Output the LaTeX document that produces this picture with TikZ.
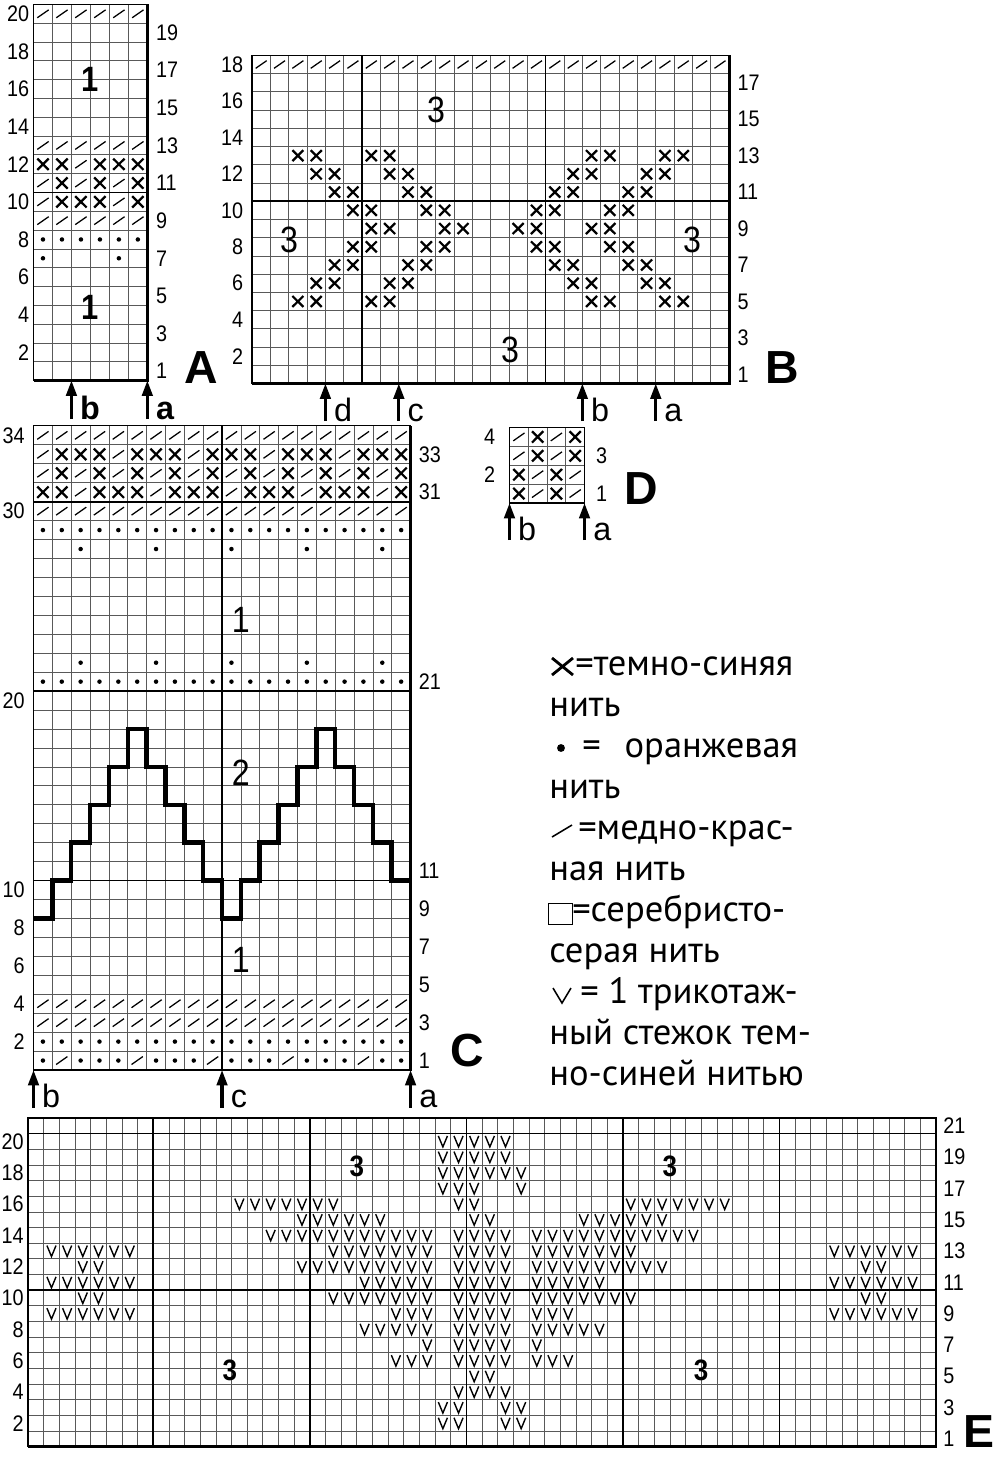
\documentclass[tikz,border=0pt]{standalone}
\usepackage{fontspec}
\setmainfont{Liberation Sans}
\newfontfamily\numfont[FakeStretch=0.88]{Liberation Sans}
\newfontfamily\legfont{PT Sans}
\usetikzlibrary{arrows.meta}

\begin{document}
\begin{tikzpicture}[x=0.025cm, y=-0.025cm]
    \tikzstyle{gridline} = [line width=0.5pt, black!65]
    \tikzstyle{heavyline} = [line width=1.2pt]
    \tikzstyle{borderline} = [line width=0.8pt]
    \tikzstyle{edgeline} = [line width=2pt]
    \tikzstyle{numlbl} = [font=\numfont\fontsize{16}{16}\selectfont, inner sep=0pt]
    \tikzstyle{zonelbl} = [font=\numfont\fontsize{26}{26}\selectfont, inner sep=0pt]
    \tikzstyle{zonebold} = [font=\numfont\bfseries\fontsize{25}{25}\selectfont, inner sep=0pt]
    \tikzstyle{chartlbl} = [font=\bfseries\fontsize{33}{33}\selectfont, inner sep=0pt, anchor=base]
    \tikzstyle{arrlbl} = [font=\fontsize{23}{23}\selectfont, inner sep=0pt, anchor=base west]
    \tikzstyle{arrbold} = [font=\bfseries\fontsize{23}{23}\selectfont, inner sep=0pt, anchor=base west]
    \tikzstyle{markarrow} = [line width=2.2pt, -{Triangle[width=7.5pt,length=11pt]}]
    \tikzstyle{stair} = [line width=3.2pt]
    \tikzstyle{legtext} = [font=\legfont\fontsize{26}{30}\selectfont, inner sep=0pt, anchor=base west]
    \tikzset{
      pics/slashmark/.style={code={\draw[line width=0.9pt] (-0.3,-0.21) -- (0.3,0.21);}},
      pics/crossmark/.style={code={\draw[line width=1.6pt] (-0.3,-0.3) -- (0.3,0.3) (-0.3,0.3) -- (0.3,-0.3);}},
      pics/dotmark/.style={code={\fill (0,0) circle[radius=1.6pt];}},
      pics/veemark/.style={code={\draw[line width=1pt] (-0.29,0.35) -- (0,-0.35) -- (0.29,0.35);}}
    }

    \path[use as bounding box, fill=white] (0,0) rectangle (1000,1468);

    % chart A
    \begin{scope}[shift={(33.5,380.5)}, x=0.4742cm, y=0.47cm]
      \foreach \i in {1,...,5} \draw[gridline] (\i,0) -- (\i,20);
      \foreach \j in {1,...,19} \draw[gridline] (0,\j) -- (6,\j);
      \draw[heavyline] (0,10) -- (6,10);
      \draw[borderline] (0,0) rectangle (6,20);
      \draw[edgeline] (0,0) -- (6,0) -- (6,20);
      \foreach \r/\cs in {20/{1,...,6},13/{1,...,6},12/{3},11/{1,3,5},10/{1,5},9/{1,...,6}}
        \foreach \c in \cs \pic at (\c-0.5,\r-0.5) {slashmark};
      \foreach \r/\cs in {12/{1,2,4,5,6},11/{2,4,6},10/{2,3,4,6}}
        \foreach \c in \cs \pic at (\c-0.5,\r-0.5) {crossmark};
      \foreach \r/\cs in {8/{1,...,6},7/{1,5}}
        \foreach \c in \cs \pic at (\c-0.5,\r-0.5) {dotmark};
      \foreach \r in {2,4,...,20} \node[numlbl, anchor=east] (Al\r) at (-0.22,\r-0.5) {\r};
      \foreach \r in {1,3,...,19} \node[numlbl, anchor=west] (Ar\r) at (6.45,\r-0.5) {\r};
      \node[zonebold] (Az1) at (3,16) {1};
      \node[zonebold] (Az2) at (3,3.9) {1};
      \foreach \c/\t in {2/b,6/a} {
        \coordinate (A\t0) at (\c,-2.05);
        \coordinate (A\t1) at (\c,0);
        \draw[markarrow] (A\t0) -- (A\t1);
        \node[arrbold] (A\t) at ([xshift=6pt]A\t0) {\t};
      }
    \end{scope}
    \node[chartlbl] (lblA) at (201,383) {A};

    % chart B
    \begin{scope}[shift={(252,383.5)}, x=0.4587cm, y=0.4556cm]
      \foreach \i in {1,...,25} \draw[gridline] (\i,0) -- (\i,18);
      \foreach \j in {1,...,17} \draw[gridline] (0,\j) -- (26,\j);
      \draw[heavyline] (6,0) -- (6,18) (16,0) -- (16,18) (0,10) -- (26,10);
      \draw[borderline] (0,0) rectangle (26,18);
      \draw[edgeline] (0,0) -- (26,0) -- (26,18);
      \foreach \c in {1,...,26} \pic at (\c-0.5,17.5) {slashmark};
      \foreach \r/\cs in {13/{3,4,7,8},12/{4,5,8,9},11/{5,6,9,10},10/{6,7,10,11},9/{7,8,11,12},
                          8/{6,7,10,11},7/{5,6,9,10},6/{4,5,8,9},5/{3,4,7,8}}
        \foreach \c in \cs {
          \pic at (\c-0.5,\r-0.5) {crossmark};
          \pic at (26.5-\c,\r-0.5) {crossmark};
        }
      \foreach \r in {2,4,...,18} \node[numlbl, anchor=east] (Bl\r) at (-0.47,\r-0.5) {\r};
      \foreach \r in {1,3,...,17} \node[numlbl, anchor=west] (Br\r) at (26.44,\r-0.5) {\r};
      \node[zonelbl] (Bz1) at (10.03,15) {3};
      \node[zonelbl] (Bz2) at (2.02,7.88) {3};
      \node[zonelbl] (Bz3) at (14.06,1.84) {3};
      \node[zonelbl] (Bz4) at (23.98,7.88) {3};
      \foreach \c/\t in {4/d,8/c,18/b,22/a} {
        \coordinate (B\t0) at (\c,-2.06);
        \coordinate (B\t1) at (\c,0);
        \draw[markarrow] (B\t0) -- (B\t1);
        \node[arrlbl] (B\t) at ([xshift=6pt]B\t0) {\t};
      }
    \end{scope}
    \node[chartlbl] (lblB) at (782,383) {B};

    % chart C
    \begin{scope}[shift={(33.5,1070)}, x=0.4712cm, y=0.4735cm]
      \foreach \i in {1,...,19} \draw[gridline] (\i,0) -- (\i,34);
      \foreach \j in {1,...,33} \draw[gridline] (0,\j) -- (20,\j);
      \draw[heavyline] (10,0) -- (10,34) (0,10) -- (20,10) (0,20) -- (20,20) (0,30) -- (20,30);
      \draw[borderline] (0,0) rectangle (20,34);
      \draw[edgeline] (0,0) -- (20,0) -- (20,34);
      \foreach \r/\cs in {34/{1,...,20},33/{1,5,9,13,17},32/{1,3,...,19},31/{3,7,11,15,19},
                          30/{1,...,20},4/{1,...,20},3/{1,...,20},1/{2,6,10,14,18}}
        \foreach \c in \cs \pic at (\c-0.5,\r-0.5) {slashmark};
      \foreach \r/\cs in {33/{2,3,4,6,7,8,10,11,12,14,15,16,18,19,20},32/{2,4,...,20},
                          31/{1,2,4,5,6,8,9,10,12,13,14,16,17,18,20}}
        \foreach \c in \cs \pic at (\c-0.5,\r-0.5) {crossmark};
      \foreach \r/\cs in {29/{1,...,20},28/{3,7,11,15,19},22/{3,7,11,15,19},21/{1,...,20},
                          2/{1,...,20},1/{1,3,4,5,7,8,9,11,12,13,15,16,17,19,20}}
        \foreach \c in \cs \pic at (\c-0.5,\r-0.5) {dotmark};
      \draw[stair] (0,8) -| (1,10) -| (2,12) -| (3,14) -| (4,16) -| (5,18) -| (6,16) -| (7,14)
                   -| (8,12) -| (9,10) -| (10,8) -| (11,10) -| (12,12) -| (13,14) -| (14,16)
                   -| (15,18) -| (16,16) -| (17,14) -| (18,12) -| (19,10) -- (20,10);
      \foreach \r in {34,30,20,10,8,6,4,2} \node[numlbl, anchor=east] (Cl\r) at (-0.45,\r-0.5) {\r};
      \foreach \r in {33,31,21,11,9,7,5,3,1} \node[numlbl, anchor=west] (Cr\r) at (20.42,\r-0.5) {\r};
      \node[zonelbl] (Cz1) at (10.99,23.76) {1};
      \node[zonelbl] (Cz2) at (10.99,15.68) {2};
      \node[zonelbl] (Cz3) at (10.99,5.81) {1};
      \foreach \c/\t in {0/b,10/c,20/a} {
        \coordinate (C\t0) at (\c,-2);
        \coordinate (C\t1) at (\c,0);
        \draw[markarrow] (C\t0) -- (C\t1);
        \node[arrlbl] (C\t) at ([xshift=6pt]C\t0) {\t};
      }
    \end{scope}
    \node[chartlbl] (lblC) at (467,1066) {C};

    % chart D
    \begin{scope}[shift={(509.5,503)}, x=0.4688cm, y=0.4719cm]
      \foreach \i in {1,2,3} \draw[gridline] (\i,0) -- (\i,4) (0,\i) -- (4,\i);
      \draw[borderline] (0,0) rectangle (4,4);
      \foreach \r/\cs in {4/{1,3},3/{1,3},2/{2,4},1/{2,4}}
        \foreach \c in \cs \pic at (\c-0.5,\r-0.5) {slashmark};
      \foreach \r/\cs in {4/{2,4},3/{2,4},2/{1,3},1/{1,3}}
        \foreach \c in \cs \pic at (\c-0.5,\r-0.5) {crossmark};
      \foreach \r in {2,4} \node[numlbl, anchor=east] (Dl\r) at (-0.75,\r-0.5) {\r};
      \foreach \r in {1,3} \node[numlbl, anchor=west] (Dr\r) at (4.6,\r-0.5) {\r};
      \foreach \c/\t in {0/b,4/a} {
        \coordinate (D\t0) at (\c,-1.96);
        \coordinate (D\t1) at (\c,0);
        \draw[markarrow] (D\t0) -- (D\t1);
        \node[arrlbl] (D\t) at ([xshift=6pt]D\t0) {\t};
      }
    \end{scope}
    \node[chartlbl] (lblD) at (641,504) {D};

    % legend
    \draw[line width=2pt] (552,658) -- (573,675) (552,675) -- (573,658);
    \node[legtext] (leg1) at (575,675) {=темно-синяя};
    \node[legtext] (leg2) at (549,716) {нить};
    \fill (561,748) circle[radius=2.8pt];
    \node[legtext] (leg3) at (582,757) {=\hspace{17pt}оранжевая};
    \node[legtext] (leg4) at (549,798) {нить};
    \draw[line width=1.1pt] (552,837) -- (572,825);
    \node[legtext] (leg5) at (578,839) {=медно-крас-};
    \node[legtext] (leg6) at (549,880) {ная нить};
    \draw[line width=0.7pt] (548,903) rectangle (572,924);
    \node[legtext] (leg7) at (572,921) {=серебристо-};
    \node[legtext] (leg8) at (549,962) {серая нить};
    \draw[line width=1.1pt] (553,988) -- (562,1003) -- (571,988);
    \node[legtext] (leg9) at (580,1003) {= 1 трикотаж-};
    \node[legtext] (leg10) at (549,1044) {ный стежок тем-};
    \node[legtext] (leg11) at (549,1085) {но-синей нитью};

    % chart E
    \begin{scope}[shift={(28,1446.7)}, x=0.3913cm, y=0.3913cm]
      \foreach \i in {1,...,57} \draw[gridline] (\i,0) -- (\i,21);
      \foreach \j in {1,...,20} \draw[gridline] (0,\j) -- (58,\j);
      \draw[heavyline] (8,0) -- (8,21) (18,0) -- (18,21) (28,0) -- (28,21) (38,0) -- (38,21)
                       (48,0) -- (48,21) (0,10) -- (58,10) (0,20) -- (58,20);
      \draw[borderline] (0,0) rectangle (58,21);
      \draw[edgeline] (0,0) -- (58,0) -- (58,21);
      \foreach \r/\a/\b in {20/27/31,19/27/31,18/27/32,17/27/29,17/32/32,
                            16/14/20,16/28/29,16/39/45,15/18/23,15/29/30,15/36/41,
                            14/16/26,14/28/31,14/33/43,
                            13/2/7,13/20/26,13/28/31,13/33/39,13/52/57,
                            12/4/5,12/18/26,12/28/31,12/33/41,12/54/55,
                            11/2/7,11/22/26,11/28/31,11/33/37,11/52/57,
                            10/4/5,10/20/26,10/28/31,10/33/39,10/54/55,
                            9/2/7,9/24/26,9/28/31,9/33/35,9/52/57,
                            8/22/26,8/28/31,8/33/37,7/26/26,7/28/31,7/33/33,
                            6/24/26,6/28/31,6/33/35,5/29/30,4/28/31,
                            3/27/28,3/31/32,2/27/28,2/31/32}
        \foreach \c in {\a,...,\b} \pic at (\c-0.5,\r-0.5) {veemark};
      \foreach \r in {2,4,...,20} \node[numlbl, anchor=east] (El\r) at (-0.26,\r-0.5) {\r};
      \foreach \r in {1,3,...,21} \node[numlbl, anchor=west] (Er\r) at (58.45,\r-0.5) {\r};
      \node[zonebold, font=\numfont\bfseries\fontsize{21}{21}\selectfont] (Ez1) at (21,17.9) {3};
      \node[zonebold, font=\numfont\bfseries\fontsize{21}{21}\selectfont] (Ez2) at (12.9,4.9) {3};
      \node[zonebold, font=\numfont\bfseries\fontsize{21}{21}\selectfont] (Ez3) at (41,17.9) {3};
      \node[zonebold, font=\numfont\bfseries\fontsize{21}{21}\selectfont] (Ez4) at (43,4.9) {3};
    \end{scope}
    \node[chartlbl] (lblE) at (979,1447) {E};
\end{tikzpicture}
\end{document}
